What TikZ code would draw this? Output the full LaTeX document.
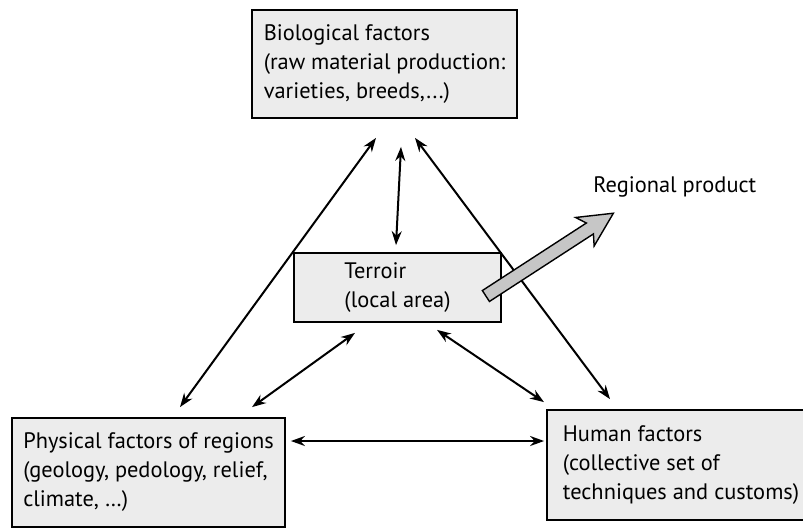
\documentclass[tikz,border=0pt]{standalone}
\usepackage{fontspec}
\setmainfont{PT Sans}
\usetikzlibrary{arrows.meta}
\tikzset{
  factor/.style={draw=black, line width=0.9pt, fill=gray!15, align=left, inner sep=1pt, font=\fontsize{11.2}{14.5}\selectfont},
  link/.style={{Stealth[length=7pt,width=5pt]}-{Stealth[length=7pt,width=5pt]}, line width=1pt},
  outflow/.style={draw=black, line width=0.7pt, fill=gray!45},
}
\begin{document}
\begin{tikzpicture}[x=0.5pt,y=-0.5pt]
		\useasboundingbox (0,0) rectangle (803,527);
		% the four boxes
		\node[factor, minimum width=132.5pt, minimum height=54pt] (bio) at (384.5,64) {Biological factors\\(raw material production:\\varieties, breeds,...)};
		\node[factor, minimum width=103.5pt, minimum height=34.5pt] (terr) at (397.5,287.5) {Terroir\\(local area)};
		\node[factor, minimum width=136.5pt, minimum height=54.5pt] (phys) at (148.5,472.5) {Physical factors of regions\\(geology, pedology, relief,\\climate, \dots)};
		\node[factor, minimum width=134pt, minimum height=55pt] (human) at (681,465) {Human factors\\(collective set of\\techniques and customs)};
		\node[font=\fontsize{11.2}{14.5}\selectfont, anchor=base west, inner sep=0pt] (product) at (593,192) {Regional product};
		% links
		\draw[link] ([xshift=-4.25pt,yshift=-9.5pt]bio.south) -- ([xshift=15.75pt,yshift=5pt]phys.north);
		\draw[link] ([xshift=8.25pt,yshift=-14pt]bio.south) -- ([xshift=-0.75pt,yshift=3.5pt]terr.north);
		\draw[link] ([xshift=15.25pt,yshift=-9.5pt]bio.south) -- ([xshift=-35.5pt,yshift=5pt]human.north);
		\draw[link] ([xshift=-21.25pt,yshift=-5pt]terr.south) -- ([xshift=51.75pt,yshift=5pt]phys.north);
		\draw[link] ([xshift=19.75pt,yshift=-3.5pt]terr.south) -- ([xshift=-68.5pt,yshift=3.5pt]human.north);
		\draw[link] ([xshift=2.5pt,yshift=15.75pt]phys.east) -- ([xshift=-1pt,yshift=12pt]human.west);
		% output arrow
		\coordinate (tail) at ([xshift=-8pt,yshift=-4.25pt]terr.east);
		\coordinate (tip) at ([xshift=10pt,yshift=-10.5pt]product.base west);
		\begin{scope}[shift={(tail)}, rotate=33]
		\draw[outflow] (0pt,3.25pt) -- (62pt,3.25pt) -- (59pt,8.5pt) -- (76pt,0pt) -- (59pt,-8.5pt) -- (62pt,-3.25pt) -- (0pt,-3.25pt) -- cycle;
		\end{scope}
\end{tikzpicture}
\end{document}
